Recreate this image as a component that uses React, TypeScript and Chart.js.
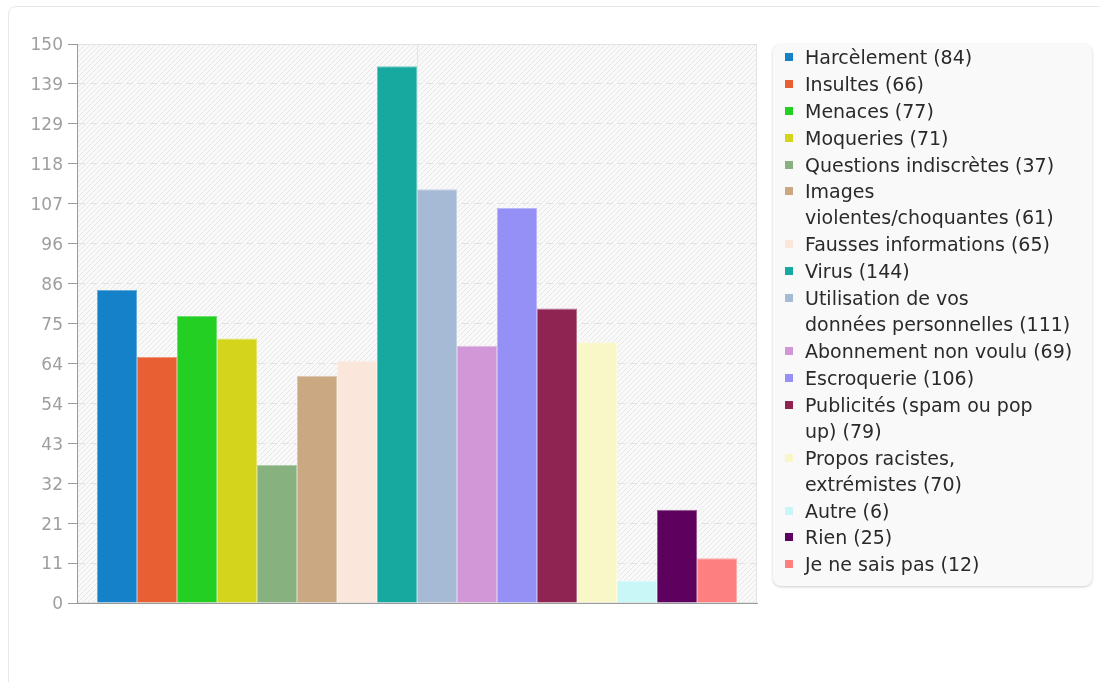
import React, { useEffect, useRef } from "react";
import { Chart, registerables } from "chart.js";

Chart.register(...registerables);

// Legend labels ("\n" marks where the legend text wraps)
const categories = [
  "Harcèlement",
  "Insultes",
  "Menaces",
  "Moqueries",
  "Questions indiscrètes",
  "Images\nviolentes/choquantes",
  "Fausses informations",
  "Virus",
  "Utilisation de vos\ndonnées personnelles",
  "Abonnement non voulu",
  "Escroquerie",
  "Publicités (spam ou pop\nup)",
  "Propos racistes,\nextrémistes",
  "Autre",
  "Rien",
  "Je ne sais pas",
];

const values = [84, 66, 77, 71, 37, 61, 65, 144, 111, 69, 106, 79, 70, 6, 25, 12];

const colors = [
  "#1581c9",
  "#e85f34",
  "#22cf22",
  "#d4d41c",
  "#87b17e",
  "#c9a882",
  "#fbe6dc",
  "#17a8a0",
  "#a7bad5",
  "#d197d7",
  "#9490f5",
  "#8f2453",
  "#f9f7c8",
  "#c9f7f7",
  "#5e005e",
  "#fe7f7f",
];

const yMax = 150;
const yStepCount = 14;

const FONT = "'DejaVu Sans', Verdana, sans-serif";

function lighten(hex: string, amt: number): string {
  const n = parseInt(hex.slice(1), 16);
  const r = (n >> 16) & 255;
  const g = (n >> 8) & 255;
  const b = n & 255;
  const f = (c: number) => Math.round(c + (255 - c) * amt);
  return `rgb(${f(r)},${f(g)},${f(b)})`;
}

function makeHatch(ctx: CanvasRenderingContext2D): CanvasPattern | string {
  const s = 5;
  const c = document.createElement("canvas");
  c.width = s;
  c.height = s;
  const p = c.getContext("2d");
  if (!p) return "#f8f8f8";
  p.fillStyle = "#f9f9f9";
  p.fillRect(0, 0, s, s);
  p.strokeStyle = "#e8e8e8";
  p.lineWidth = 1;
  p.beginPath();
  p.moveTo(0, s);
  p.lineTo(s, 0);
  p.moveTo(-1, 1);
  p.lineTo(1, -1);
  p.moveTo(s - 1, s + 1);
  p.lineTo(s + 1, s - 1);
  p.stroke();
  return ctx.createPattern(c, "repeat") || "#f8f8f8";
}

const backgroundPlugin = {
  id: "hatchBackground",
  beforeDraw(chart: any) {
    const { ctx, chartArea } = chart;
    if (!chartArea) return;
    ctx.save();
    ctx.fillStyle = makeHatch(ctx);
    ctx.fillRect(chartArea.left, chartArea.top, chartArea.right - chartArea.left, chartArea.bottom - chartArea.top);
    ctx.strokeStyle = "#e3e3e3";
    ctx.lineWidth = 1;
    ctx.strokeRect(chartArea.left + 0.5, chartArea.top + 0.5, chartArea.right - chartArea.left - 1, chartArea.bottom - chartArea.top - 1);
    ctx.restore();
  },
};

export default function App() {
  const canvasRef = useRef<HTMLCanvasElement | null>(null);

  useEffect(() => {
    if (!canvasRef.current) return;
    const chart = new Chart(canvasRef.current, {
      type: "bar",
      data: {
        labels: [""],
        datasets: categories.map((c, i) => ({
          label: c.replace("\n", " "),
          data: [values[i]],
          backgroundColor: colors[i],
          borderColor: lighten(colors[i], 0.35),
          borderWidth: 1,
          categoryPercentage: 640 / 680,
          barPercentage: 1,
        })),
      },
      options: {
        animation: false,
        responsive: false,
        maintainAspectRatio: false,
        layout: { padding: { left: 0, top: 44, right: 13, bottom: 79 } },
        plugins: {
          legend: { display: false },
          tooltip: { enabled: false },
        },
        scales: {
          x: {
            ticks: { display: false },
            grid: { offset: false, color: "#e3e3e3", drawTicks: false },
            border: { display: true, color: "#9a9a9a", width: 1 },
            afterFit: (scale: any) => {
              scale.height = 0;
            },
          },
          y: {
            min: 0,
            max: yMax,
            afterBuildTicks: (scale: any) => {
              const t = [];
              for (let i = 0; i <= yStepCount; i++) t.push({ value: (yMax * i) / yStepCount });
              scale.ticks = t;
            },
            afterFit: (scale: any) => {
              scale.width = 77;
            },
            ticks: {
              padding: 5,
              labelOffset: 2,
              color: "#9e9e9e",
              font: { family: FONT, size: 17 },
              callback: (v: any) => String(Math.round(Number(v))),
            },
            grid: {
              color: "#e1e1e1",
              tickColor: "#9a9a9a",
              tickLength: 9,
              tickBorderDash: [],
            } as any,
            border: { display: true, color: "#9a9a9a", width: 1, dash: [7, 5] },
          },
        },
      },
      plugins: [backgroundPlugin],
    });
    return () => chart.destroy();
  }, []);

  return (
    <div style={{ position: "fixed", inset: 0, overflow: "hidden", background: "#fff" }}>
      <div
        style={{
          position: "absolute",
          left: 8,
          top: 6,
          width: 1120,
          height: 720,
          border: "1px solid #e8e8e8",
          borderRadius: 8,
          boxSizing: "border-box",
        }}
      />
      <canvas
        ref={canvasRef}
        width={770}
        height={682}
        style={{ position: "absolute", left: 0, top: 0, width: 770, height: 682, display: "block" }}
      />
      <div
        style={{
          position: "absolute",
          left: 773,
          top: 44,
          width: 319,
          height: 542,
          background: "#f9f9f9",
          borderRadius: 8,
          boxShadow: "0 1px 3px rgba(0,0,0,0.2)",
          boxSizing: "border-box",
          fontFamily: FONT,
          fontSize: 19,
          color: "#2a2a2a",
        }}
      >
        {categories.map((c, i) => (
          <div
            key={i}
            style={{
              position: "relative",
              paddingLeft: 32,
              lineHeight: "26px",
              marginBottom: 0.9,
              whiteSpace: "pre-line",
            }}
          >
            <span
              style={{
                position: "absolute",
                left: 12,
                top: 9,
                width: 8,
                height: 8,
                background: colors[i],
              }}
            />
            {`${c} (${values[i]})`}
          </div>
        ))}
      </div>
    </div>
  );
}
